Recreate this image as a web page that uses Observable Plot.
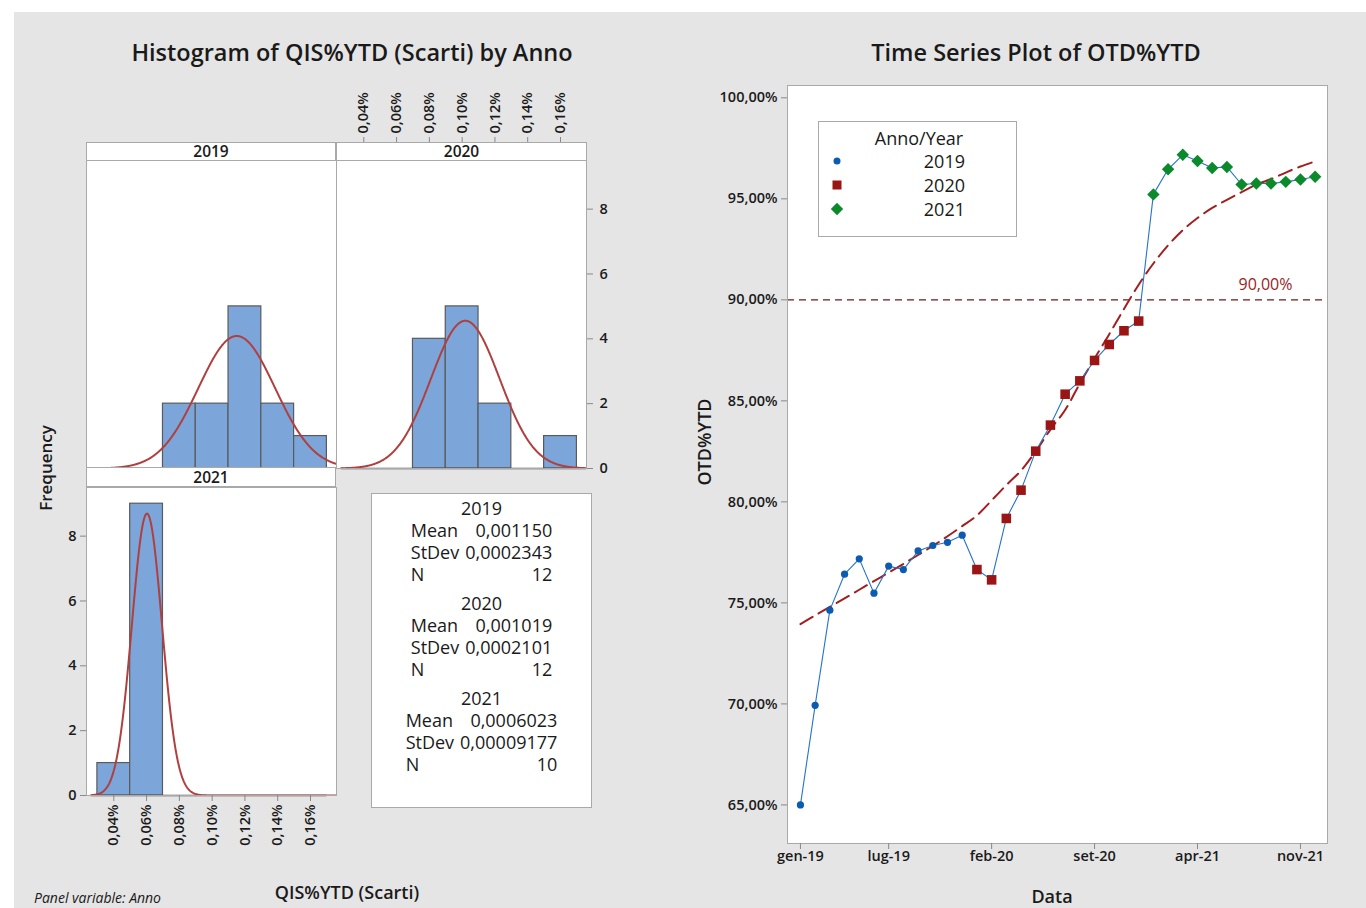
<!DOCTYPE html>
<html><head><meta charset="utf-8">
<script src="https://cdn.jsdelivr.net/npm/d3@7"></script>
<script src="https://cdn.jsdelivr.net/npm/@observablehq/plot@0.6"></script>
<style>
html,body{margin:0;padding:0;background:#fff;}
#page{position:relative;width:1366px;height:908px;overflow:hidden;font-family:"Open Sans","Noto Sans",sans-serif;color:#1a1a1a;}
#bg{position:absolute;left:14px;top:12px;width:1352px;height:896px;background:#e5e5e5;}
.strip{position:absolute;box-sizing:border-box;background:#fff;border:1px solid #a9a9a9;font-size:15.5px;font-weight:600;text-align:center;}
.box{position:absolute;box-sizing:border-box;background:#fff;border:1px solid #a9a9a9;}
.blk{display:grid;grid-template-columns:auto auto;column-gap:6px;width:max-content;margin:0 auto 7px auto;font-size:18px;line-height:22px;}
.blk .hd{grid-column:1 / span 2;text-align:center;}
.blk .v{text-align:right;}
svg{overflow:visible;}
</style></head>
<body><div id="page"><div id="bg"></div></div>
<script>
// ---------------- DATA ----------------
// Histogram (QIS%YTD Scarti), bins of width 0,02%
const binEdges = [0.0003, 0.0005, 0.0007, 0.0009, 0.0011, 0.0013, 0.0015, 0.0017];
const counts2019 = [0, 0, 2, 2, 5, 2, 1];
const counts2020 = [0, 0, 4, 5, 2, 0, 1];
const counts2021 = [1, 9, 0, 0, 0, 0, 0];
const statYears = ["2019", "2020", "2021"];
const statMean = [0.001150, 0.001019, 0.0006023];
const statStDev = [0.0002343, 0.0002101, 0.00009177];
const statN = [12, 12, 10];
const histXTicks = [0.0004, 0.0006, 0.0008, 0.0010, 0.0012, 0.0014, 0.0016];
const histYTicks = [0, 2, 4, 6, 8];

// Time series (OTD%YTD), monthly gen-19 .. dic-21
const otd2019 = [65.00, 69.93, 74.64, 76.42, 77.18, 75.48, 76.82, 76.65, 77.57, 77.84, 78.00, 78.35];
const otd2020 = [76.65, 76.14, 79.18, 80.58, 82.51, 83.80, 85.33, 85.99, 87.00, 87.79, 88.47, 88.95];
const otd2021 = [95.22, 96.46, 97.18, 96.87, 96.53, 96.58, 95.71, 95.76, 95.76, 95.84, 95.96, 96.09];
const otdTrend = [73.95, 74.38, 74.80, 75.22, 75.65, 76.08, 76.50, 76.93, 77.37, 77.82, 78.30, 78.80,
                  79.33, 80.07, 80.83, 81.55, 82.50, 83.58, 84.55, 85.86, 87.10, 88.30, 89.55, 90.75,
                  91.80, 92.70, 93.45, 94.05, 94.55, 94.95, 95.33, 95.70, 95.98, 96.30, 96.60, 96.85];
const refLine = [90];
const tsYTicks = [65, 70, 75, 80, 85, 90, 95, 100];
const tsXTickIndex = [0, 6, 13, 20, 27, 34];
const tsXTickLabels = ["gen-19", "lug-19", "feb-20", "set-20", "apr-21", "nov-21"];
const legendYears = ["2019", "2020", "2021"];

// ---------------- STYLE ----------------
const FONT = '"Open Sans","Noto Sans",sans-serif';
const barFill = "#7ca6da", barStroke = "#5a5a5a", fitColor = "#b0403f", frameColor = "#a9a9a9";
const blue = "#0b5cb0", lineBlue = "#2673c9", red = "#9b1515", green = "#0b8a2b", trendRed = "#a31f1f";

const it = d3.formatLocale({decimal: ",", thousands: ".", grouping: [3], currency: ["€", ""]});
const fmtHist = it.format(".2%");
const fmtTs = v => it.format(".2f")(v) + "%";
const fmtStat = v => String(v.toPrecision(4)).replace(".", ",");

const page = document.getElementById("page");
function put(node, left, top) {
  node.style.position = "absolute"; node.style.left = left + "px"; node.style.top = top + "px";
  page.appendChild(node); return node;
}
function txt(s, cx, cy, css = "", rot = 0) {
  const d = document.createElement("div");
  d.textContent = s;
  d.style.cssText = `position:absolute;left:${cx}px;top:${cy}px;white-space:nowrap;line-height:1;transform:translate(-50%,-50%) rotate(${rot}deg);${css}`;
  page.appendChild(d); return d;
}
const axisStyle = {fontFamily: FONT, fontSize: "14.5px", fontWeight: 600, color: "#1a1a1a", background: "transparent", overflow: "visible"};

// ---------------- HISTOGRAM PANELS ----------------
const xDomain = [0.0002335, 0.0017586];
const binWidth = binEdges[1] - binEdges[0];
function histPanel(k, {width, height, mL = 0, mR = 0, mT = 0, mB = 0, axes = [], baseTo = 0.00176}) {
  const counts = [counts2019, counts2020, counts2021][k];
  const mean = statMean[k], sd = statStDev[k], n = statN[k];
  const bins = counts.map((c, i) => ({x1: binEdges[i], x2: binEdges[i + 1], c})).filter(d => d.c > 0);
  const a = 0.000262, b = 0.00176;
  const curve = d3.range(0, 601).map(j => {
    const x = a + (b - a) * j / 600;
    return {x, y: n * binWidth * Math.exp(-0.5 * ((x - mean) / sd) ** 2) / (sd * Math.sqrt(2 * Math.PI))};
  });
  const hasAxes = axes.length > 0;
  return Plot.plot({
    width, height, marginLeft: mL, marginRight: mR, marginTop: mT, marginBottom: mB,
    x: hasAxes ? {domain: xDomain} : {domain: xDomain, axis: null},
    y: hasAxes ? {domain: [0, 9.5]} : {domain: [0, 9.5], axis: null},
    style: axisStyle,
    marks: [
      Plot.frame({fill: "white", stroke: null}),
      Plot.rectY(bins, {x1: "x1", x2: "x2", y: "c", fill: barFill, stroke: barStroke, strokeWidth: 1.2}),
      Plot.ruleY([0], {x1: a, x2: baseTo, stroke: "#4a4a4a", strokeWidth: 1.3}),
      Plot.line(curve, {x: "x", y: "y", stroke: fitColor, strokeWidth: 2, clip: true}),
      Plot.frame({stroke: frameColor, strokeWidth: 1}),
      ...axes
    ]
  });
}

// 2019 (top-left)
put(histPanel(0, {width: 250, height: 308}), 86, 160);
// 2020 (top-right) with top x-axis and right y-axis
put(histPanel(1, {width: 280, height: 378, mT: 70, mR: 30, axes: [
  Plot.axisX({anchor: "top", ticks: histXTicks, tickFormat: fmtHist, tickRotate: -90, dy: -18, tickSize: 6, stroke: "#888", fill: "#1a1a1a", label: null}),
  Plot.axisY({anchor: "right", ticks: histYTicks, tickSize: 6, tickPadding: 7, stroke: "#888", fill: "#1a1a1a", label: null})
]}), 336, 90);
// 2021 (bottom-left) with bottom x-axis and left y-axis
put(histPanel(2, {width: 290, height: 368, mL: 40, mB: 60, baseTo: 0.0017, axes: [
  Plot.axisX({anchor: "bottom", ticks: histXTicks, tickFormat: fmtHist, tickRotate: -90, tickSize: 6, stroke: "#888", fill: "#1a1a1a", label: null}),
  Plot.axisY({anchor: "left", ticks: histYTicks, tickSize: 6, tickPadding: 4, stroke: "#888", fill: "#1a1a1a", label: null})
]}), 46, 487);

// strips
[[86, 142, 250, 19, statYears[0]], [336, 142, 251, 19, statYears[1]], [86, 467, 250, 20, statYears[2]]].forEach(([l, t, w, h, s]) => {
  const d = document.createElement("div");
  d.className = "strip"; d.textContent = s;
  d.style.width = w + "px"; d.style.height = h + "px"; d.style.lineHeight = (h - 2) + "px";
  put(d, l, t);
});

// stats box
const sb = document.createElement("div");
sb.className = "box"; sb.style.width = "221px"; sb.style.height = "315px"; sb.style.paddingTop = "3px";
statYears.forEach((y, i) => {
  const blk = document.createElement("div"); blk.className = "blk";
  const rows = [["Mean", fmtStat(statMean[i])], ["StDev", fmtStat(statStDev[i])], ["N", String(statN[i])]];
  let html = `<div class="hd">${y}</div>`;
  rows.forEach(([a, b]) => { html += `<div>${a}</div><div class="v">${b}</div>`; });
  blk.innerHTML = html; sb.appendChild(blk);
});
put(sb, 371, 493);

// hist texts
txt("Histogram of QIS%YTD (Scarti) by Anno", 352, 53, "font-size:23.5px;font-weight:600;");
txt("Frequency", 45, 468, "font-size:17px;font-weight:600;", -90);
txt("QIS%YTD (Scarti)", 347, 892, "font-size:18px;font-weight:600;");
const pv = txt("Panel variable: Anno", 0, 898, "font-size:14px;font-style:italic;");
pv.style.left = "34px"; pv.style.transform = "translate(0,-50%)";

// ---------------- TIME SERIES ----------------
const rows = (arr, off) => arr.map((v, i) => ({i: i + off, v}));
const all = [...rows(otd2019, 0), ...rows(otd2020, 12), ...rows(otd2021, 24)];
const trend = otdTrend.map((v, i) => ({i, v}));
const ts = Plot.plot({
  width: 647, height: 803, marginLeft: 87, marginTop: 10, marginRight: 20, marginBottom: 35,
  x: {domain: [-0.88, 35.84]},
  y: {domain: [63.09, 100.61]},
  style: axisStyle,
  marks: [
    Plot.frame({fill: "white", stroke: null}),
    Plot.ruleY(refLine, {stroke: "#6e1a1a", strokeWidth: 1.1, strokeDasharray: "7,5"}),
    Plot.text(refLine, {y: d => d, text: d => fmtTs(d), frameAnchor: "right", dx: -35, dy: -15, textAnchor: "end", fill: "#9b1c1c", fontSize: 16, fontWeight: 400}),
    Plot.line(trend, {x: "i", y: "v", stroke: trendRed, strokeWidth: 2, strokeDasharray: "14,7", curve: "catmull-rom"}),
    Plot.line(all, {x: "i", y: "v", stroke: lineBlue, strokeWidth: 1.1}),
    Plot.dot(rows(otd2019, 0), {x: "i", y: "v", r: 3.6, fill: blue, symbol: "circle"}),
    Plot.dot(rows(otd2020, 12), {x: "i", y: "v", r: 5.4, fill: red, symbol: "square"}),
    Plot.dot(rows(otd2021, 24), {x: "i", y: "v", r: 5.6, fill: green, symbol: "diamond2"}),
    Plot.frame({stroke: frameColor}),
    Plot.axisY({ticks: tsYTicks, tickFormat: fmtTs, tickSize: 6, tickPadding: 4, stroke: "#888", fill: "#1a1a1a", label: null}),
    Plot.axisX({ticks: tsXTickIndex, tickFormat: i => tsXTickLabels[tsXTickIndex.indexOf(i)], tickSize: 6, tickPadding: 1, stroke: "#888", fill: "#1a1a1a", label: null})
  ]
});
put(ts, 700, 75);

txt("Time Series Plot of OTD%YTD", 1036, 53, "font-size:23.5px;font-weight:600;");
txt("OTD%YTD", 704, 442, "font-size:18px;font-weight:600;", -90);
txt("Data", 1052, 896, "font-size:18px;font-weight:600;");

// legend
const lg = document.createElement("div");
lg.className = "box"; lg.style.width = "199px"; lg.style.height = "116px";
put(lg, 818, 121);
txt("Anno/Year", 919, 138, "font-size:18px;");
const symSvg = [
  `<svg width="14" height="14"><circle cx="7" cy="7" r="3.5" fill="${blue}"/></svg>`,
  `<svg width="14" height="14"><rect x="2.5" y="2.5" width="9" height="9" fill="${red}"/></svg>`,
  `<svg width="14" height="14"><path d="M7,0.8L13.2,7L7,13.2L0.8,7Z" fill="${green}"/></svg>`
];
legendYears.forEach((y, i) => {
  const cy = 161 + i * 24;
  const s = document.createElement("div"); s.innerHTML = symSvg[i];
  s.style.cssText = "position:absolute;width:14px;height:14px;line-height:0;";
  put(s, 830, cy - 7);
  const t = txt(y, 0, cy, "font-size:18px;");
  t.style.left = "965px"; t.style.transform = "translate(-100%,-50%)";
});
</script>
</body></html>
